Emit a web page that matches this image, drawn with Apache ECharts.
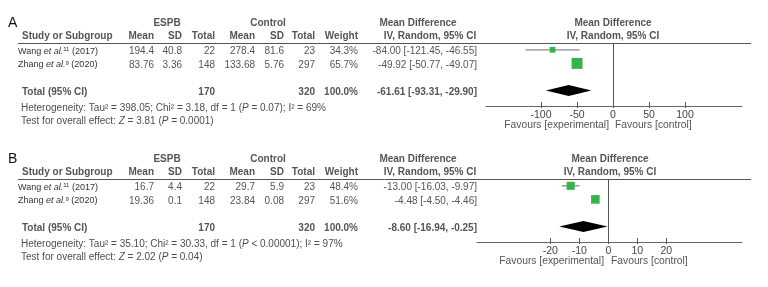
<!DOCTYPE html>
<html><head><meta charset="utf-8">
<script src="https://cdn.jsdelivr.net/npm/echarts@6/dist/echarts.min.js"></script>
<style>html,body{margin:0;background:#fff}#c{width:768px;height:287px}</style>
</head><body><div id="c"></div>
<script>
// ---------- DATA ----------
const studyNames = ['Wang', 'Zhang'];
const studyRefs = ['11', '9'];
const studyYears = ['2017', '2020'];

// Panel A
const aEspbMean = ['194.4', '83.76'];
const aEspbSD = ['40.8', '3.36'];
const aEspbN = ['22', '148'];
const aCtrlMean = ['278.4', '133.68'];
const aCtrlSD = ['81.6', '5.76'];
const aCtrlN = ['23', '297'];
const aWeight = [34.3, 65.7];
const aMD = [-84.00, -49.92];
const aLo = [-121.45, -50.77];
const aHi = [-46.55, -49.07];
const aTotal = [-61.61, -93.31, -29.90];
const aTotalN = ['170', '320'];
const aHet = ['398.05', '3.18', '1', '= 0.07', '69'];
const aTest = ['3.81', '= 0.0001'];
const aTicks = [-100, -50, 0, 50, 100];

// Panel B
const bEspbMean = ['16.7', '19.36'];
const bEspbSD = ['4.4', '0.1'];
const bEspbN = ['22', '148'];
const bCtrlMean = ['29.7', '23.84'];
const bCtrlSD = ['5.9', '0.08'];
const bCtrlN = ['23', '297'];
const bWeight = [48.4, 51.6];
const bMD = [-13.00, -4.48];
const bLo = [-16.03, -4.50];
const bHi = [-9.97, -4.46];
const bTotal = [-8.60, -16.94, -0.25];
const bTotalN = ['170', '320'];
const bHet = ['35.10', '30.33', '1', '< 0.00001', '97'];
const bTest = ['2.02', '= 0.04'];
const bTicks = [-20, -10, 0, 10, 20];

// ---------- LAYOUT ----------
const FONT = '"Liberation Sans", Arial, sans-serif';
const GREEN = '#35b44a';
const panels = [
  {label:'A', oy:0, espbMean:aEspbMean, espbSD:aEspbSD, espbN:aEspbN, ctrlMean:aCtrlMean, ctrlSD:aCtrlSD, ctrlN:aCtrlN,
   weight:aWeight, md:aMD, lo:aLo, hi:aHi, total:aTotal, totalN:aTotalN, het:aHet, test:aTest, ticks:aTicks,
   gridLeft:486, gridW:256, xmin:-176.4, xmax:179.2, headC:613, favL:609, favR:615},
  {label:'B', oy:136, espbMean:bEspbMean, espbSD:bEspbSD, espbN:bEspbN, ctrlMean:bCtrlMean, ctrlSD:bCtrlSD, ctrlN:bCtrlN,
   weight:bWeight, md:bMD, lo:bLo, hi:bHi, total:bTotal, totalN:bTotalN, het:bHet, test:bTest, ticks:bTicks,
   gridLeft:477, gridW:265, xmin:-45.3, xmax:46.1, headC:610, favL:604, favR:611}
];
const GTOP = 43, GH = 63, PITCH = 13.6, YMIN = -0.5, YMAX = GH / PITCH - 0.5;
const col = {eMean:154, eSD:182, eN:215, cMean:255, cSD:284, cN:315, wt:358, md:477};

function txt(x, y, text, o) {
  o = o || {};
  const st = {
    text: text, fill: o.fill || '#4e4e4e',
    fontSize: o.size || 10, fontFamily: FONT, fontWeight: o.bold ? 'bold' : 'normal',
    fontStyle: o.italic ? 'italic' : 'normal',
    textAlign: o.align || 'left', align: o.align || 'left',
    textVerticalAlign: 'middle', verticalAlign: 'middle'
  };
  if (o.rich) st.rich = o.rich;
  return {type:'text', x:x, y:y, silent:true, z:10, style:st};
}
function fmtCI(m, l, h) { return m.toFixed(2) + ' [' + l.toFixed(2) + ', ' + h.toFixed(2) + ']'; }

const graphics = [];
const grids = [], xAxes = [], yAxes = [], series = [];

panels.forEach(function (p, pi) {
  const oy = p.oy;
  const rowY = function (r) { return oy + GTOP + (r + 0.5) * PITCH + 1.5; };
  const hdrBold = {bold:true, size:10, fill:'#555'};
  const right = function (o) { return Object.assign({}, o, {align:'right'}); };
  const center = function (o) { return Object.assign({}, o, {align:'center'}); };
  // panel label
  graphics.push(txt(8, oy + 23, p.label, {size:14, fill:'#111'}));
  // group headers
  graphics.push(txt(167, oy + 23, 'ESPB', center(hdrBold)));
  graphics.push(txt(268, oy + 23, 'Control', center(hdrBold)));
  graphics.push(txt(418, oy + 23, 'Mean Difference', center(hdrBold)));
  graphics.push(txt(p.headC, oy + 23, 'Mean Difference', center(hdrBold)));
  // column headers
  const hy = oy + 36;
  graphics.push(txt(22, hy, 'Study or Subgroup', hdrBold));
  [['Mean', col.eMean], ['SD', col.eSD], ['Total', col.eN], ['Mean', col.cMean], ['SD', col.cSD], ['Total', col.cN], ['Weight', col.wt]]
    .forEach(function (h) { graphics.push(txt(h[1], hy, h[0], right(hdrBold))); });
  graphics.push(txt(430, hy, 'IV, Random, 95% CI', center(hdrBold)));
  graphics.push(txt(p.headC, hy, 'IV, Random, 95% CI', center(hdrBold)));
  // header rule
  graphics.push({type:'line', silent:true, z:5, shape:{x1:18, y1:oy + GTOP + 0.5, x2:751, y2:oy + GTOP + 0.5},
    style:{stroke:'#555', lineWidth:1}});
  // study rows
  const reg = {fill:'#555', size:10};
  studyNames.forEach(function (n, i) {
    const y = rowY(i);
    graphics.push(txt(18, y, '{n|' + n + ' }{i|et al.}{s|' + studyRefs[i] + '}{n| (' + studyYears[i] + ')}', {
      fill:'#333', size:9, rich:{
        n:{fontSize:9, fontFamily:FONT, fill:'#333'},
        i:{fontSize:9, fontFamily:FONT, fontStyle:'italic', fill:'#333'},
        s:{fontSize:6, fontFamily:FONT, fill:'#333', verticalAlign:'top'}
      }}));
    graphics.push(txt(col.eMean, y, p.espbMean[i], right(reg)));
    graphics.push(txt(col.eSD, y, p.espbSD[i], right(reg)));
    graphics.push(txt(col.eN, y, p.espbN[i], right(reg)));
    graphics.push(txt(col.cMean, y, p.ctrlMean[i], right(reg)));
    graphics.push(txt(col.cSD, y, p.ctrlSD[i], right(reg)));
    graphics.push(txt(col.cN, y, p.ctrlN[i], right(reg)));
    graphics.push(txt(col.wt, y, p.weight[i].toFixed(1) + '%', right(reg)));
    graphics.push(txt(col.md, y, fmtCI(p.md[i], p.lo[i], p.hi[i]), right(reg)));
  });
  // total row
  const ty = rowY(3);
  const tb = {bold:true, size:10, fill:'#555'};
  graphics.push(txt(22, ty, 'Total (95% CI)', tb));
  graphics.push(txt(col.eN, ty, p.totalN[0], right(tb)));
  graphics.push(txt(col.cN, ty, p.totalN[1], right(tb)));
  const wsum = p.weight.reduce(function (a, b) { return a + b; }, 0);
  graphics.push(txt(col.wt, ty, wsum.toFixed(1) + '%', right(tb)));
  graphics.push(txt(col.md, ty, fmtCI(p.total[0], p.total[1], p.total[2]), right(tb)));
  // heterogeneity & test
  const rich = {
    n:{fontSize:10, fontFamily:FONT, fill:'#4e4e4e'},
    i:{fontSize:10, fontFamily:FONT, fill:'#4e4e4e', fontStyle:'italic'}
  };
  graphics.push(txt(21, oy + 108, '{n|Heterogeneity: Tau² = ' + p.het[0] + '; Chi² = ' + p.het[1] + ', df = ' + p.het[2] +
    ' (}{i|P}{n| ' + p.het[3] + '); I² = ' + p.het[4] + '%}', {size:10, rich:rich}));
  graphics.push(txt(21, oy + 121, '{n|Test for overall effect: }{i|Z}{n| = ' + p.test[0] + ' (}{i|P}{n| ' + p.test[1] + ')}',
    {size:10, rich:rich}));
  // favours
  graphics.push(txt(p.favL, oy + 125.5, 'Favours [experimental]', {size:10.3, fill:'#555', align:'right'}));
  graphics.push(txt(p.favR, oy + 125.5, 'Favours [control]', {size:10.3, fill:'#555'}));

  // ---- plot ----
  grids.push({left:p.gridLeft, width:p.gridW, top:oy + GTOP, height:GH});
  const base = {gridIndex:pi, type:'value', position:'bottom', min:p.xmin, max:p.xmax, splitLine:{show:false}};
  xAxes.push(Object.assign({}, base, {
    axisLine:{show:true, onZero:false, lineStyle:{color:'#666', width:1}},
    axisTick:{show:true, inside:false, length:2, lineStyle:{color:'#555'}, customValues:p.ticks},
    axisLabel:{show:true, color:'#444', fontSize:10.5, fontFamily:FONT, margin:4, customValues:p.ticks,
      formatter:function (v) { return String(v); }}
  }));
  xAxes.push(Object.assign({}, base, {
    offset:0,
    axisLine:{show:false, onZero:false},
    axisTick:{show:true, inside:true, length:4, lineStyle:{color:'#555'}, customValues:p.ticks},
    axisLabel:{show:false}
  }));
  yAxes.push({gridIndex:pi, type:'value', inverse:true, min:YMIN, max:YMAX, show:false});

  const studyData = p.md.map(function (m, i) { return [m, p.lo[i], p.hi[i], i, p.weight[i]]; });
  series.push({
    type:'custom', xAxisIndex:pi * 2, yAxisIndex:pi, data:studyData,
    encode:{x:[0, 1, 2], y:3},
    renderItem:function (params, api) {
      const c = api.coord([api.value(0), api.value(3)]);
      const l = api.coord([api.value(1), api.value(3)]);
      const h = api.coord([api.value(2), api.value(3)]);
      const s = api.value(4) / 6;
      return {type:'group', children:[
        {type:'line', shape:{x1:l[0], y1:l[1], x2:h[0], y2:h[1]}, style:{stroke:'#8a8a8a', lineWidth:1.3}},
        {type:'rect', shape:{x:c[0] - s / 2, y:c[1] - s / 2, width:s, height:s}, style:{fill:GREEN}}
      ]};
    },
    markLine:{silent:true, symbol:'none', label:{show:false}, lineStyle:{color:'#555', width:1, type:'solid'},
      data:[{xAxis:0}]},
    z:3
  });
  series.push({
    type:'custom', xAxisIndex:pi * 2, yAxisIndex:pi, data:[[p.total[0], p.total[1], p.total[2], 3]],
    encode:{x:[0, 1, 2], y:3},
    renderItem:function (params, api) {
      const c = api.coord([api.value(0), api.value(3)]);
      const l = api.coord([api.value(1), api.value(3)]);
      const h = api.coord([api.value(2), api.value(3)]);
      const hh = 5.5;
      return {type:'polygon', shape:{points:[[l[0], l[1]], [c[0], c[1] - hh], [h[0], h[1]], [c[0], c[1] + hh]]},
        style:{fill:'#000'}};
    },
    z:4
  });
});

const chart = echarts.init(document.getElementById('c'));
chart.setOption({
  animation:false,
  backgroundColor:'#fff',
  grid:grids, xAxis:xAxes, yAxis:yAxes, series:series,
  graphic:{elements:graphics}
});
</script></body></html>
